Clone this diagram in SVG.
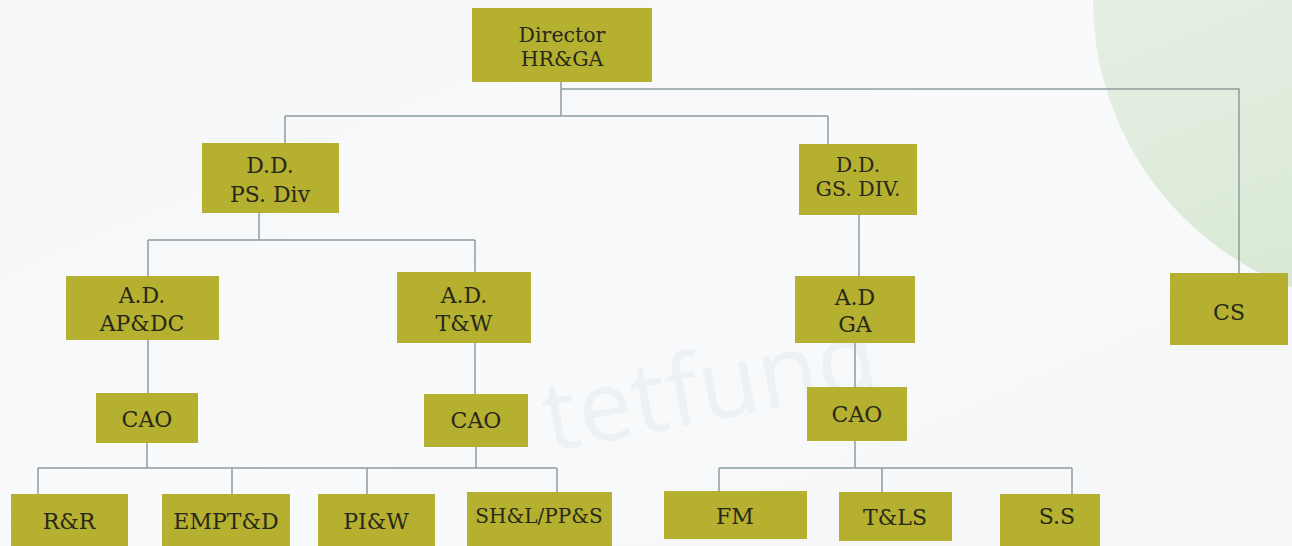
<svg xmlns="http://www.w3.org/2000/svg" width="1292" height="546" viewBox="0 0 1292 546">
<defs>
<linearGradient id="bg" x1="0" y1="0" x2="1" y2="1">
<stop offset="0" stop-color="#f4f6f7"/>
<stop offset="0.5" stop-color="#f9fafb"/>
<stop offset="1" stop-color="#f4f6f7"/>
</linearGradient>
<linearGradient id="green" x1="0" y1="0" x2="0.4" y2="1">
<stop offset="0" stop-color="#f0f5ee"/>
<stop offset="1" stop-color="#d8e8d4"/>
</linearGradient>
<style>
.box{fill:#b5b030;}
.t{font-family:"DejaVu Serif","Liberation Serif",serif;font-size:22px;fill:#28281a;text-anchor:middle;}
.s{font-size:20px;}
.m{font-size:20.5px;}
.c{fill:none;stroke:#8e9c9c;stroke-width:1.5;}
.wm{font-family:"Open Sans","DejaVu Sans",sans-serif;font-size:98px;fill:#eef1f4;}
</style>
</defs>
<rect x="0" y="0" width="1292" height="546" fill="url(#bg)"/>
<circle cx="1400" cy="0" r="307" fill="url(#green)"/>
<text class="wm" x="550" y="452" transform="rotate(-11 550 452)">tetfund</text>

<g id="connectors" class="c">
<path class="c" d="M561 82 V116 M285 116 H828 M285 116 V143 M828 116 V144"/>
<path class="c" d="M561 89 H1239 V273"/>
<path class="c" d="M259 213 V240 M148 240 H475 M148 240 V276 M475 240 V272"/>
<path class="c" d="M148 340 V393 M475 343 V394"/>
<path class="c" d="M147 443 V468 M476 447 V468 M38 468 H557 M38 468 V494 M232 468 V494 M367 468 V494 M557 468 V492"/>
<path class="c" d="M859 215 V276 M855 343 V387 M855 441 V468 M719 468 H1072 M719 468 V491 M882 468 V492 M1072 468 V494"/>
</g>

<g id="director"><rect class="box" x="472" y="8" width="180" height="74"/><text class="t m" x="562" y="42">Director</text><text class="t m" x="562" y="66">HR&amp;GA</text></g>
<g id="dd-ps"><rect class="box" x="202" y="143" width="137" height="70"/><text class="t" x="270" y="173">D.D.</text><text class="t" x="270" y="202">PS. Div</text></g>
<g id="dd-gs"><rect class="box" x="799" y="144" width="118" height="71"/><text class="t m" x="858" y="172">D.D.</text><text class="t m" x="858" y="196">GS. DIV.</text></g>
<g id="cs"><rect class="box" x="1170" y="273" width="118" height="72"/><text class="t" x="1229" y="320">CS</text></g>
<g id="ad-apdc"><rect class="box" x="66" y="276" width="153" height="64"/><text class="t" x="142" y="303">A.D.</text><text class="t" x="142" y="331">AP&amp;DC</text></g>
<g id="ad-tw"><rect class="box" x="397" y="272" width="134" height="71"/><text class="t" x="464" y="303">A.D.</text><text class="t" x="464" y="331">T&amp;W</text></g>
<g id="ad-ga"><rect class="box" x="795" y="276" width="120" height="67"/><text class="t" x="855" y="305">A.D</text><text class="t" x="855" y="332">GA</text></g>
<g id="cao-1"><rect class="box" x="96" y="393" width="102" height="50"/><text class="t" x="147" y="427">CAO</text></g>
<g id="cao-2"><rect class="box" x="424" y="394" width="104" height="53"/><text class="t" x="476" y="428">CAO</text></g>
<g id="cao-3"><rect class="box" x="807" y="387" width="100" height="54"/><text class="t" x="857" y="422">CAO</text></g>
<g id="rr"><rect class="box" x="11" y="494" width="117" height="52"/><text class="t" x="69" y="529">R&amp;R</text></g>
<g id="emptd"><rect class="box" x="162" y="494" width="128" height="52"/><text class="t" x="226" y="529">EMPT&amp;D</text></g>
<g id="piw"><rect class="box" x="318" y="494" width="117" height="52"/><text class="t" x="376" y="529">PI&amp;W</text></g>
<g id="shl"><rect class="box" x="467" y="492" width="145" height="54"/><text class="t s" x="539" y="523">SH&amp;L/PP&amp;S</text></g>
<g id="fm"><rect class="box" x="664" y="491" width="143" height="48"/><text class="t" x="735" y="524">FM</text></g>
<g id="tls"><rect class="box" x="839" y="492" width="113" height="49"/><text class="t" x="895" y="525">T&amp;LS</text></g>
<g id="ss"><rect class="box" x="1000" y="494" width="100" height="52"/><text class="t" x="1057" y="524">S.S</text></g>
</svg>
